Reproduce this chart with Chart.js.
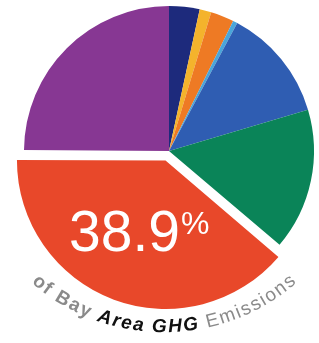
<!DOCTYPE html>
<html>
<head>
<meta charset="utf-8">
<script src="https://cdn.jsdelivr.net/npm/chart.js@4/dist/chart.umd.min.js"></script>
<style>
  html, body { margin: 0; padding: 0; background: #fff; }
  #wrap { width: 319px; height: 343px; }
</style>
</head>
<body>
<div id="wrap"><canvas id="ghgChart" width="319" height="343"></canvas></div>
<script>
// sectors, clockwise from 12 o'clock
const sectors = [
    'Refineries',
    'Agriculture',
    'Waste',
    'High GWP',
    'Electricity',
    'Buildings',
    'Transportation',
    'Industrial / Commercial'
];
const shares = [3.4, 1.3, 2.6, 0.5, 12.6, 15.8, 38.9, 24.9];
const sliceColors = ['#1d2a7c', '#f4b32c', '#ee7a24', '#4aa6da', '#2f5db2', '#0a8458', '#e8482a', '#873793'];
const sliceOffsets = [0, 0, 0, 0, 0, 0, 40, 0];
const highlightIndex = 6;
const captionParts = [
    { text: 'of Bay ', color: '#8a8a8a', font: 'bold 19px "Liberation Sans"' },
    { text: 'Area GHG ', color: '#111111', font: 'italic bold 19px "Liberation Sans"' },
    { text: 'Emissions', color: '#8a8a8a', font: '19px "Liberation Sans"' }
];

const labelPlugin = {
    id: 'ghgLabels',
    afterDraw(chart) {
        const ctx = chart.ctx;
        const arc = chart.getDatasetMeta(0).data[highlightIndex];
        const half = (arc.startAngle + arc.endAngle) / 2;
        const push = sliceOffsets[highlightIndex] / 4;
        const cx = arc.x + Math.cos(half) * (push + arc.outerRadius * 0.52);
        const cy = arc.y + Math.sin(half) * (push + arc.outerRadius * 0.52);

        // big percentage
        const pct = chart.data.datasets[0].data[highlightIndex].toFixed(1);
        ctx.save();
        ctx.fillStyle = '#ffffff';
        ctx.textBaseline = 'alphabetic';
        ctx.textAlign = 'left';
        ctx.font = '57px "Liberation Sans"';
        const wNum = ctx.measureText(pct).width;
        ctx.font = '32px "Liberation Sans"';
        const wPct = ctx.measureText('%').width;
        const left = cx - (wNum + wPct + 1) / 2;
        const base = cy + 20;
        ctx.font = '57px "Liberation Sans"';
        ctx.fillText(pct, left, base);
        ctx.font = '32px "Liberation Sans"';
        ctx.fillText('%', left + wNum + 1, base - 17);
        ctx.restore();

        // curved caption
        const tcx = arc.x - 5, tcy = arc.y - 21, R = 197;
        const startA = 131 * Math.PI / 180, endA = 49 * Math.PI / 180;
        const chars = [];
        let total = 0;
        ctx.save();
        captionParts.forEach(p => {
            ctx.font = p.font;
            for (const ch of p.text) {
                const w = ctx.measureText(ch).width;
                chars.push({ ch, w, p });
                total += w;
            }
        });
        const gap = ((startA - endA) * R - total) / (chars.length - 1);
        let a = startA;
        ctx.textAlign = 'center';
        ctx.textBaseline = 'middle';
        chars.forEach(c => {
            const mid = a - (c.w / 2) / R;
            ctx.save();
            ctx.translate(tcx + Math.cos(mid) * R, tcy + Math.sin(mid) * R);
            ctx.rotate(mid - Math.PI / 2);
            ctx.font = c.p.font;
            ctx.fillStyle = c.p.color;
            ctx.fillText(c.ch, 0, 0);
            ctx.restore();
            a -= (c.w + gap) / R;
        });
        ctx.restore();
    }
};

new Chart(document.getElementById('ghgChart'), {
    type: 'pie',
    data: {
        labels: sectors,
        datasets: [{
            data: shares,
            backgroundColor: sliceColors,
            borderWidth: 0,
            offset: sliceOffsets
        }]
    },
    options: {
        responsive: false,
        animation: false,
        devicePixelRatio: 1,
        radius: 145,
        layout: { padding: { left: 19, right: 0, top: 0, bottom: 41 } },
        plugins: {
            legend: { display: false },
            tooltip: { enabled: false }
        }
    },
    plugins: [labelPlugin]
});
</script>
</body>
</html>
